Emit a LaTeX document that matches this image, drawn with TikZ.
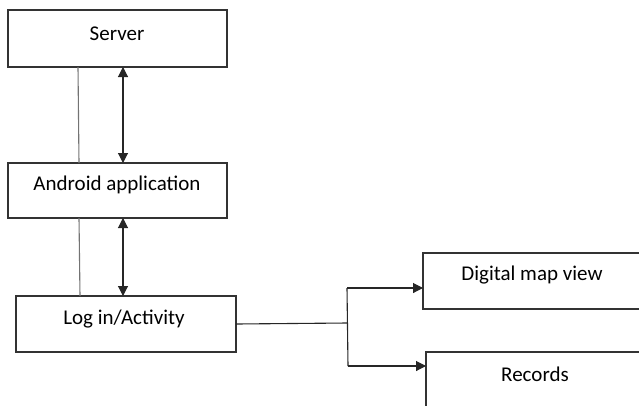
\documentclass[tikz,border=0pt]{standalone}
\usepackage{fontspec}
\setmainfont{Carlito}
\usetikzlibrary{arrows.meta}
\begin{document}
\begin{tikzpicture}[x=1pt,y=-1pt,
  box/.style={draw=black!80,line width=1.1pt,fill=white},
  lbl/.style={inner sep=0pt,font=\fontsize{21}{24}\selectfont,anchor=center},
  thin/.style={draw=black!55,line width=1.1pt},
  conn/.style={draw=black!85,line width=1.1pt},
  arr/.style={conn,{Triangle[length=10pt,width=10pt]}-{Triangle[length=10pt,width=10pt]}},
  sarr/.style={conn,-{Triangle[length=10pt,width=10pt]}}]
\useasboundingbox (0,0) rectangle (639,405);
\begin{scope}
\clip (0,0) rectangle (639,405);
\draw[box] (8,10) rectangle (227,67);
\draw[box] (8,163) rectangle (227,218);
\draw[box] (16,296) rectangle (236,352);
\draw[box] (423,253) rectangle (650,309);
\draw[box] (426,352) rectangle (650,420);
\end{scope}
\coordinate (serverB) at (123,67);
\coordinate (androidT) at (123,163);
\coordinate (androidB) at (123,218);
\coordinate (loginT) at (123,296);
\node[lbl] (server) at (117,34) {Server};
\node[lbl] (android) at (117,185) {Android application};
\node[lbl] (login) at (124,319) {Log in/Activity};
\node[lbl] (map) at (532,275) {Digital map view};
\node[lbl] (records) at (535,374) {Records};
\coordinate (s1) at (78,67);
\coordinate (a1) at (79,163);
\coordinate (a2) at (79,218);
\coordinate (l1) at (80,296);
\draw[thin] (s1) -- (a1);
\draw[thin] (a2) -- (l1);
\draw[arr] (serverB) -- (androidT);
\draw[arr] (androidB) -- (loginT);
\coordinate (lr) at (236,324);
\coordinate (j) at (347,323);
\coordinate (jt) at (347,288);
\coordinate (jb) at (348,366);
\coordinate (mapL) at (423,288);
\coordinate (recL) at (426,366);
\draw[conn] (lr) -- (j);
\draw[conn] (jt) -- (jb);
\draw[sarr] (jt) -- (mapL);
\draw[sarr] (jb) -- (recL);
\end{tikzpicture}
\end{document}
